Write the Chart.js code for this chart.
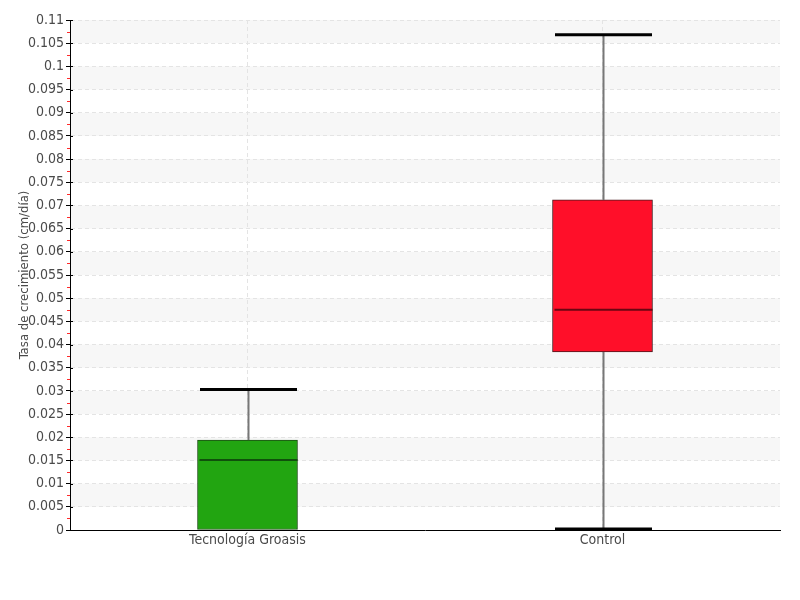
<!DOCTYPE html>
<html>
<head>
<meta charset="utf-8">
<script src="https://cdn.jsdelivr.net/npm/chart.js@4"></script>
<style>
  html, body { margin: 0; padding: 0; background: #fff; }
  #wrap { width: 800px; height: 600px; }
</style>
</head>
<body>
<div id="wrap"><canvas id="chart" width="800" height="600"></canvas></div>
<script>
// Box plot data
const categories = ['Tecnología Groasis', 'Control'];
const mins    = [0.0,    0.0002];
const q1s     = [0.0,    0.0384];
const medians = [0.0151, 0.0475];
const q3s     = [0.0194, 0.0712];
const maxs    = [0.0303, 0.1068];
const yTicks  = { min: 0, max: 0.11, step: 0.005 };

const COLORS = {
  fill:   ['#22a511', '#ff0f29'],
  edge:   ['#1e4e16', '#4a1a1e'],
  median: ['#10500c', '#6b0612'],
  whisker: '#777777', cap: '#000000',
  text: '#4a4a4a', grid: '#e4e4e4', band: '#f7f7f7', minor: '#ff2a2a'
};
const FONT = "'DejaVu Sans Condensed', 'Liberation Sans Narrow', sans-serif";

// alternating bands + minor ticks on the y axis
const bandsPlugin = {
  id: 'bands',
  beforeDraw(chart) {
    const { ctx, chartArea: a, scales: { y } } = chart;
    ctx.save();
    ctx.fillStyle = COLORS.band;
    y.ticks.forEach((t, i) => {
      if (i % 2 === 1 && i + 1 < y.ticks.length) {
        const top = y.getPixelForValue(y.ticks[i + 1].value);
        const bot = y.getPixelForValue(t.value);
        ctx.fillRect(a.left, top, a.right - a.left, bot - top);
      }
    });
    ctx.restore();
  },
  afterDraw(chart) {
    const { ctx, chartArea: a, scales: { y } } = chart;
    ctx.save();
    ctx.lineWidth = 1;
    for (let i = 0; i + 1 < y.ticks.length; i++) {
      const v = (y.ticks[i].value + y.ticks[i + 1].value) / 2;
      const py = Math.round(y.getPixelForValue(v)) + 0.5;
      ctx.strokeStyle = COLORS.minor;
      ctx.beginPath(); ctx.moveTo(a.left - 3, py); ctx.lineTo(a.left, py); ctx.stroke();
    }
    ctx.strokeStyle = '#000';
    y.ticks.forEach(t => {
      const py = Math.round(y.getPixelForValue(t.value)) + 0.5;
      ctx.beginPath(); ctx.moveTo(a.left, py); ctx.lineTo(a.left + 3, py); ctx.stroke();
    });
    ctx.restore();
  }
};

// whiskers, caps and median lines
const boxPlugin = {
  id: 'boxes',
  afterDatasetsDraw(chart) {
    const { ctx, scales: { x, y } } = chart;
    const meta = chart.getDatasetMeta(0);
    ctx.save();
    categories.forEach((c, i) => {
      const bar = meta.data[i];
      const cx = Math.round(x.getPixelForValue(i)) + 0.5;
      const half = bar.width / 2;
      const py = v => y.getPixelForValue(v);
      ctx.strokeStyle = COLORS.whisker; ctx.lineWidth = 2;
      ctx.beginPath();
      ctx.moveTo(cx, py(q3s[i])); ctx.lineTo(cx, py(maxs[i]));
      ctx.moveTo(cx, py(q1s[i])); ctx.lineTo(cx, py(mins[i]));
      ctx.stroke();
      ctx.strokeStyle = COLORS.cap; ctx.lineWidth = 3;
      ctx.beginPath();
      ctx.moveTo(cx - half * 0.97, py(maxs[i])); ctx.lineTo(cx + half * 0.97, py(maxs[i]));
      if (mins[i] > 0) { ctx.moveTo(cx - half * 0.97, py(mins[i])); ctx.lineTo(cx + half * 0.97, py(mins[i])); }
      ctx.stroke();
      ctx.strokeStyle = COLORS.median[i]; ctx.lineWidth = 2;
      ctx.beginPath();
      ctx.moveTo(cx - half + 1, py(medians[i])); ctx.lineTo(cx + half - 1, py(medians[i]));
      ctx.stroke();
    });
    ctx.restore();
  }
};

new Chart(document.getElementById('chart'), {
  type: 'bar',
  data: {
    labels: categories,
    datasets: [{
      data: categories.map((c, i) => [q1s[i], q3s[i]]),
      backgroundColor: COLORS.fill,
      borderColor: COLORS.edge,
      borderWidth: 1,
      borderSkipped: false,
      barThickness: 100
    }]
  },
  options: {
    responsive: false,
    animation: false,
    layout: { padding: { left: 0, right: 20, top: 20, bottom: 0 } },
    plugins: { legend: { display: false }, tooltip: { enabled: false } },
    scales: {
      x: {
        grid: {
          offset: false, drawTicks: false,
          color: c => (c.index < categories.length ? COLORS.grid : 'rgba(0,0,0,0)')
        },
        border: { display: true, color: '#000', width: 1, dash: [4, 3] },
        ticks: { color: COLORS.text, font: { family: FONT, size: 14 }, padding: 2 },
        afterFit(s) { s.height = 70; }
      },
      y: {
        min: yTicks.min, max: yTicks.max,
        grid: { color: COLORS.grid, tickColor: '#000', tickLength: 4, tickBorderDash: [] },
        border: { display: true, color: '#000', width: 1, dash: [4, 3] },
        ticks: {
          stepSize: yTicks.step, color: COLORS.text, padding: 2,
          font: { family: FONT, size: 14 },
          callback: v => String(+v.toFixed(3))
        },
        title: {
          display: true, text: 'Tasa de crecimiento (cm/día)',
          color: COLORS.text, font: { family: FONT, size: 13 },
          padding: { top: 17, bottom: 0 }
        },
        afterFit(s) { s.width = 70; }
      }
    }
  },
  plugins: [bandsPlugin, boxPlugin]
});
</script>
</body>
</html>
